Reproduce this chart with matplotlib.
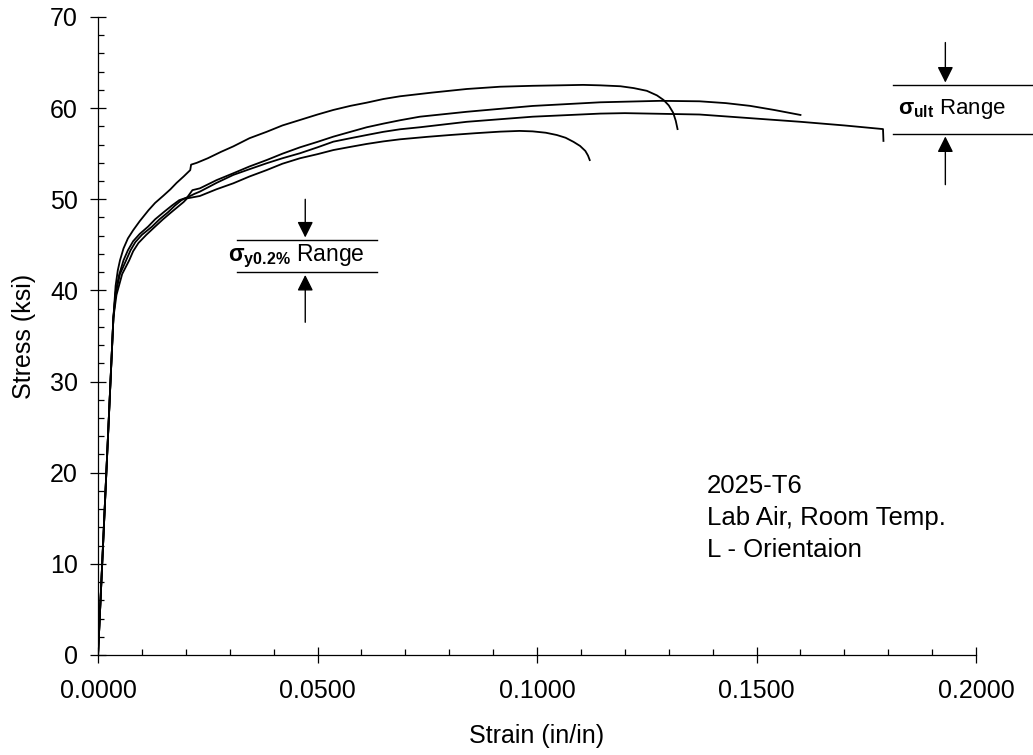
import matplotlib
matplotlib.use("Agg")
import matplotlib.pyplot as plt
from matplotlib.ticker import MultipleLocator, FormatStrFormatter

plt.rcParams["font.family"] = ["Liberation Sans", "DejaVu Sans"]
plt.rcParams["mathtext.fontset"] = "custom"
plt.rcParams["mathtext.rm"] = "Liberation Sans"
plt.rcParams["mathtext.it"] = "Liberation Sans"
plt.rcParams["mathtext.bf"] = "Liberation Sans:bold"

# specimen A (highest)
strain_a = [0, 0.0035, 0.0040, 0.0045, 0.0050, 0.0058, 0.0068, 0.0080, 0.0095, 0.0115,
            0.0130, 0.0149, 0.0165, 0.0179, 0.0195, 0.0210, 0.0212, 0.0225, 0.0250, 0.0280,
            0.0308, 0.0345, 0.0384, 0.0420, 0.0460, 0.0500, 0.0536, 0.0575, 0.0612, 0.0650,
            0.0688, 0.0760, 0.0840, 0.0916, 0.0990, 0.1050, 0.1105, 0.1144, 0.1190, 0.1220,
            0.1250, 0.1273, 0.1288, 0.1300, 0.1310, 0.1316, 0.1320]
stress_a = [0, 37.0, 40.5, 42.2, 43.3, 44.6, 45.7, 46.6, 47.6, 48.8,
            49.6, 50.4, 51.1, 51.8, 52.5, 53.2, 53.8, 54.0, 54.5, 55.2,
            55.8, 56.7, 57.4, 58.1, 58.7, 59.3, 59.8, 60.25, 60.6, 61.0,
            61.3, 61.7, 62.1, 62.35, 62.45, 62.5, 62.55, 62.5, 62.4, 62.2,
            61.9, 61.4, 60.9, 60.3, 59.5, 58.6, 57.7]

# specimen B (ends at 0.16)
strain_b = [0, 0.0035, 0.0040, 0.0048, 0.0058, 0.0068, 0.0080, 0.0095, 0.0114, 0.0130,
            0.0150, 0.0168, 0.0185, 0.0203, 0.0215, 0.0232, 0.0270, 0.0308, 0.0345, 0.0384,
            0.0420, 0.0460, 0.0500, 0.0536, 0.0575, 0.0612, 0.0650, 0.0688, 0.0733, 0.0840,
            0.0990, 0.1144, 0.1280, 0.1370, 0.1430, 0.1485, 0.1540, 0.1600]
stress_b = [0, 37.0, 39.8, 41.7, 43.3, 44.4, 45.4, 46.2, 47.0, 47.8,
            48.6, 49.3, 49.9, 50.2, 51.0, 51.2, 52.1, 52.85, 53.6, 54.3,
            55.0, 55.7, 56.3, 56.87, 57.4, 57.9, 58.3, 58.67, 59.06, 59.6,
            60.24, 60.64, 60.8, 60.75, 60.55, 60.25, 59.8, 59.25]

# specimen C (longest)
strain_c = [0, 0.0035, 0.0040, 0.0050, 0.0064, 0.0074, 0.0085, 0.0100, 0.0123, 0.0140,
            0.0160, 0.0175, 0.0190, 0.0203, 0.0220, 0.0232, 0.0270, 0.0308, 0.0345, 0.0384,
            0.0420, 0.0460, 0.0500, 0.0536, 0.0575, 0.0612, 0.0650, 0.0688, 0.0733, 0.0840,
            0.0990, 0.1144, 0.1200, 0.1370, 0.1600, 0.1700, 0.1788, 0.1789]
stress_c = [0, 37.0, 39.6, 41.8, 43.3, 44.4, 45.3, 46.1, 47.0, 47.8,
            48.6, 49.3, 49.9, 50.2, 50.6, 50.84, 51.8, 52.67, 53.3, 53.95,
            54.5, 55.05, 55.7, 56.32, 56.7, 57.05, 57.4, 57.68, 57.9, 58.5,
            59.06, 59.4, 59.45, 59.3, 58.5, 58.1, 57.7, 56.4]

# specimen D (shortest)
strain_d = [0, 0.0035, 0.0042, 0.0055, 0.0071, 0.0080, 0.0092, 0.0110, 0.0130, 0.0148,
            0.0165, 0.0180, 0.0195, 0.0203, 0.0232, 0.0270, 0.0308, 0.0345, 0.0384, 0.0420,
            0.0460, 0.0500, 0.0536, 0.0575, 0.0612, 0.0650, 0.0688, 0.0750, 0.0802, 0.0860,
            0.0916, 0.0960, 0.0990, 0.1020, 0.1045, 0.1065, 0.1083, 0.1098, 0.1110, 0.1116,
            0.1120]
stress_d = [0, 37.0, 39.5, 41.8, 43.3, 44.3, 45.2, 46.1, 47.0, 47.8,
            48.5, 49.1, 49.7, 50.1, 50.36, 51.1, 51.75, 52.5, 53.2, 53.9,
            54.5, 54.95, 55.4, 55.75, 56.07, 56.35, 56.58, 56.85, 57.05, 57.25,
            57.42, 57.5, 57.45, 57.3, 57.05, 56.75, 56.3, 55.85, 55.3, 54.8,
            54.3]

# range markers (strain span, bounds, arrow tails)
ult_span = [0.181, 0.213]
ult_bounds = [57.2, 62.5]
ult_arrow_x = 0.193
ult_tails = [51.3, 67.5]

yld_span = [0.0317, 0.0636]
yld_bounds = [42.0, 45.5]
yld_arrow_x = 0.0472
yld_tails = [36.2, 50.3]

note_lines = ["2025-T6", "Lab Air, Room Temp.", "L - Orientaion"]
note_y = [17.8, 14.3, 10.8]

fig = plt.figure(figsize=(10.33, 7.55), dpi=100)
ax = fig.add_axes([0.0949, 0.1325, 0.85, 0.845])

for sx, sy in [(strain_a, stress_a), (strain_b, stress_b), (strain_c, stress_c), (strain_d, stress_d)]:
    ax.plot(sx, sy, color="black", lw=1.3, solid_joinstyle="round")

ax.set_xlim(0, 0.2)
ax.set_ylim(0, 70)
ax.xaxis.set_major_locator(MultipleLocator(0.05))
ax.xaxis.set_minor_locator(MultipleLocator(0.01))
ax.yaxis.set_major_locator(MultipleLocator(10))
ax.yaxis.set_minor_locator(MultipleLocator(2))
ax.xaxis.set_major_formatter(FormatStrFormatter("%.4f"))
ax.tick_params(which="major", direction="inout", length=11, width=0.9, labelsize=18)
ax.tick_params(axis="y", which="major", pad=9)
ax.tick_params(axis="x", which="major", pad=12)
ax.tick_params(which="minor", direction="in", length=4.5, width=0.9)
for side in ["top", "right"]:
    ax.spines[side].set_visible(False)
for side in ["left", "bottom"]:
    ax.spines[side].set_linewidth(0.9)

ax.set_xlabel("Strain (in/in)", fontsize=18, labelpad=15)
ax.set_ylabel("Stress (ksi)", fontsize=18, labelpad=10)

for line, yv in zip(note_lines, note_y):
    ax.text(0.1387, yv, line, fontsize=18.5, va="baseline", ha="left")

arrow = dict(arrowstyle="-|>", color="black", lw=1.0, mutation_scale=24)

# ultimate strength range
for yb in ult_bounds:
    ax.plot(ult_span, [yb, yb], color="black", lw=1.0, clip_on=False)
ax.annotate("", xy=(ult_arrow_x, ult_bounds[1]), xytext=(ult_arrow_x, ult_tails[1]),
            arrowprops=arrow, annotation_clip=False)
ax.annotate("", xy=(ult_arrow_x, ult_bounds[0]), xytext=(ult_arrow_x, ult_tails[0]),
            arrowprops=arrow, annotation_clip=False)
ax.text(ult_span[0] + 0.0012, sum(ult_bounds) / 2, r"$\mathbf{\sigma_{ult}}$ Range",
        fontsize=16, va="center", ha="left", clip_on=False)

# 0.2% yield range
for yb in yld_bounds:
    ax.plot(yld_span, [yb, yb], color="black", lw=1.0)
ax.annotate("", xy=(yld_arrow_x, yld_bounds[1]), xytext=(yld_arrow_x, yld_tails[1]),
            arrowprops=arrow)
ax.annotate("", xy=(yld_arrow_x, yld_bounds[0]), xytext=(yld_arrow_x, yld_tails[0]),
            arrowprops=arrow)
ax.text(yld_span[0] - 0.002, sum(yld_bounds) / 2, r"$\mathbf{\sigma_{y0.2\%}}$ Range",
        fontsize=16.5, va="center", ha="left")

fig.savefig("out.png", dpi=100)
